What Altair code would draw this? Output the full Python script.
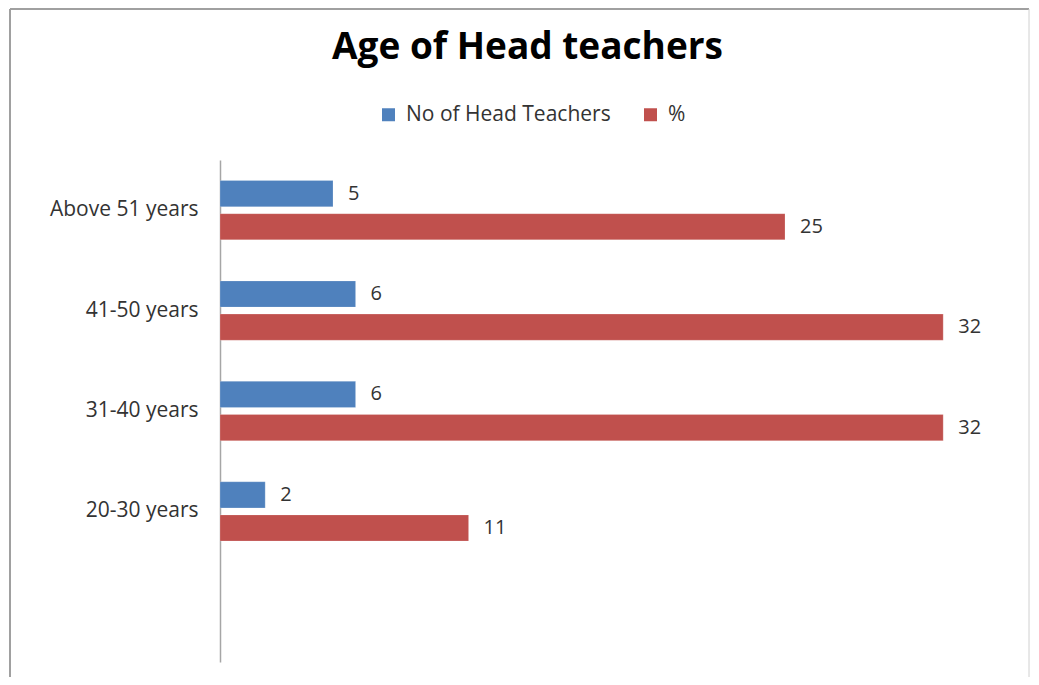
import altair as alt
import pandas as pd

categories = ["Above 51 years", "41-50 years", "31-40 years", "20-30 years"]
head_teachers = [5, 6, 6, 2]
percent = [25, 32, 32, 11]
series_names = ["No of Head Teachers", "%"]
series_colors = ["#4F81BD", "#C0504D"]
y_domain = categories + [" "]

rows = []
for c, n, p in zip(categories, head_teachers, percent):
    rows.append({"age": c, "series": series_names[0], "value": n})
    rows.append({"age": c, "series": series_names[1], "value": p})
df = pd.DataFrame(rows)

FONT = "Open Sans"
W, H = 791, 502
PL, PT = 212, 152
PR = 1023 - PL - W
PB = 669 - PT - H

y_enc = alt.Y("age:N", sort=y_domain,
              scale=alt.Scale(domain=y_domain, paddingInner=0, paddingOuter=0),
              axis=alt.Axis(title=None, ticks=False, domainColor="#a6a6a6", domainWidth=1.5,
                            labelFontSize=21, labelFont=FONT, labelColor="#333333",
                            labelPadding=22))
yoff = alt.YOffset("series:N", sort=series_names,
                   scale=alt.Scale(domain=series_names, paddingInner=0.21, paddingOuter=0.62))
x_enc = alt.X("value:Q", scale=alt.Scale(domain=[0, 35], nice=False), axis=None)

base = alt.Chart(df)
bars = base.mark_bar(stroke="white", strokeWidth=0.5, strokeOpacity=0.4).encode(
    x=x_enc, y=y_enc, yOffset=yoff,
    color=alt.Color("series:N", sort=series_names,
                    scale=alt.Scale(domain=series_names, range=series_colors),
                    legend=alt.Legend(title=None, orient="none", direction="horizontal",
                                      legendX=158, legendY=-56, symbolType="square",
                                      symbolSize=169, symbolStrokeWidth=0,
                                      labelFontSize=21, labelFont=FONT, labelColor="#333333",
                                      labelLimit=0, labelOffset=7, columnPadding=29, padding=0)),
)
labels = base.mark_text(align="left", baseline="middle", dx=15, fontSize=20,
                        font=FONT, color="#333333").encode(
    x=x_enc, y=alt.Y("age:N", sort=y_domain), yOffset=yoff, text="value:Q")

frame_df = pd.DataFrame({"k": [0]})
frame_top = alt.Chart(frame_df).mark_rule(color="#a0a0a0", strokeWidth=2).encode(
    x=alt.value(-210), x2=alt.value(W + PR - 2), y=alt.value(-PT + 1))
frame_left = alt.Chart(frame_df).mark_rule(color="#a0a0a0", strokeWidth=2).encode(
    x=alt.value(-210), y=alt.value(-PT + 1), y2=alt.value(H + PB))
frame_right = alt.Chart(frame_df).mark_rule(color="#d0d0d0", strokeWidth=1).encode(
    x=alt.value(W + PR - 2), y=alt.value(-PT + 1), y2=alt.value(H + PB))

chart = alt.layer(bars, labels, frame_top, frame_left, frame_right).properties(
    width=W, height=H,
    autosize=alt.AutoSizeParams(type="none"),
    padding={"left": PL, "top": PT, "right": PR, "bottom": PB},
    title=alt.TitleParams("Age of Head teachers", fontSize=37, font=FONT, fontWeight="bold",
                          color="black", anchor="middle", dx=-88, offset=-88,
                          baseline="alphabetic"),
).configure_view(stroke=None)

chart.save("out.html", embed_options={"renderer": "svg", "actions": False})
